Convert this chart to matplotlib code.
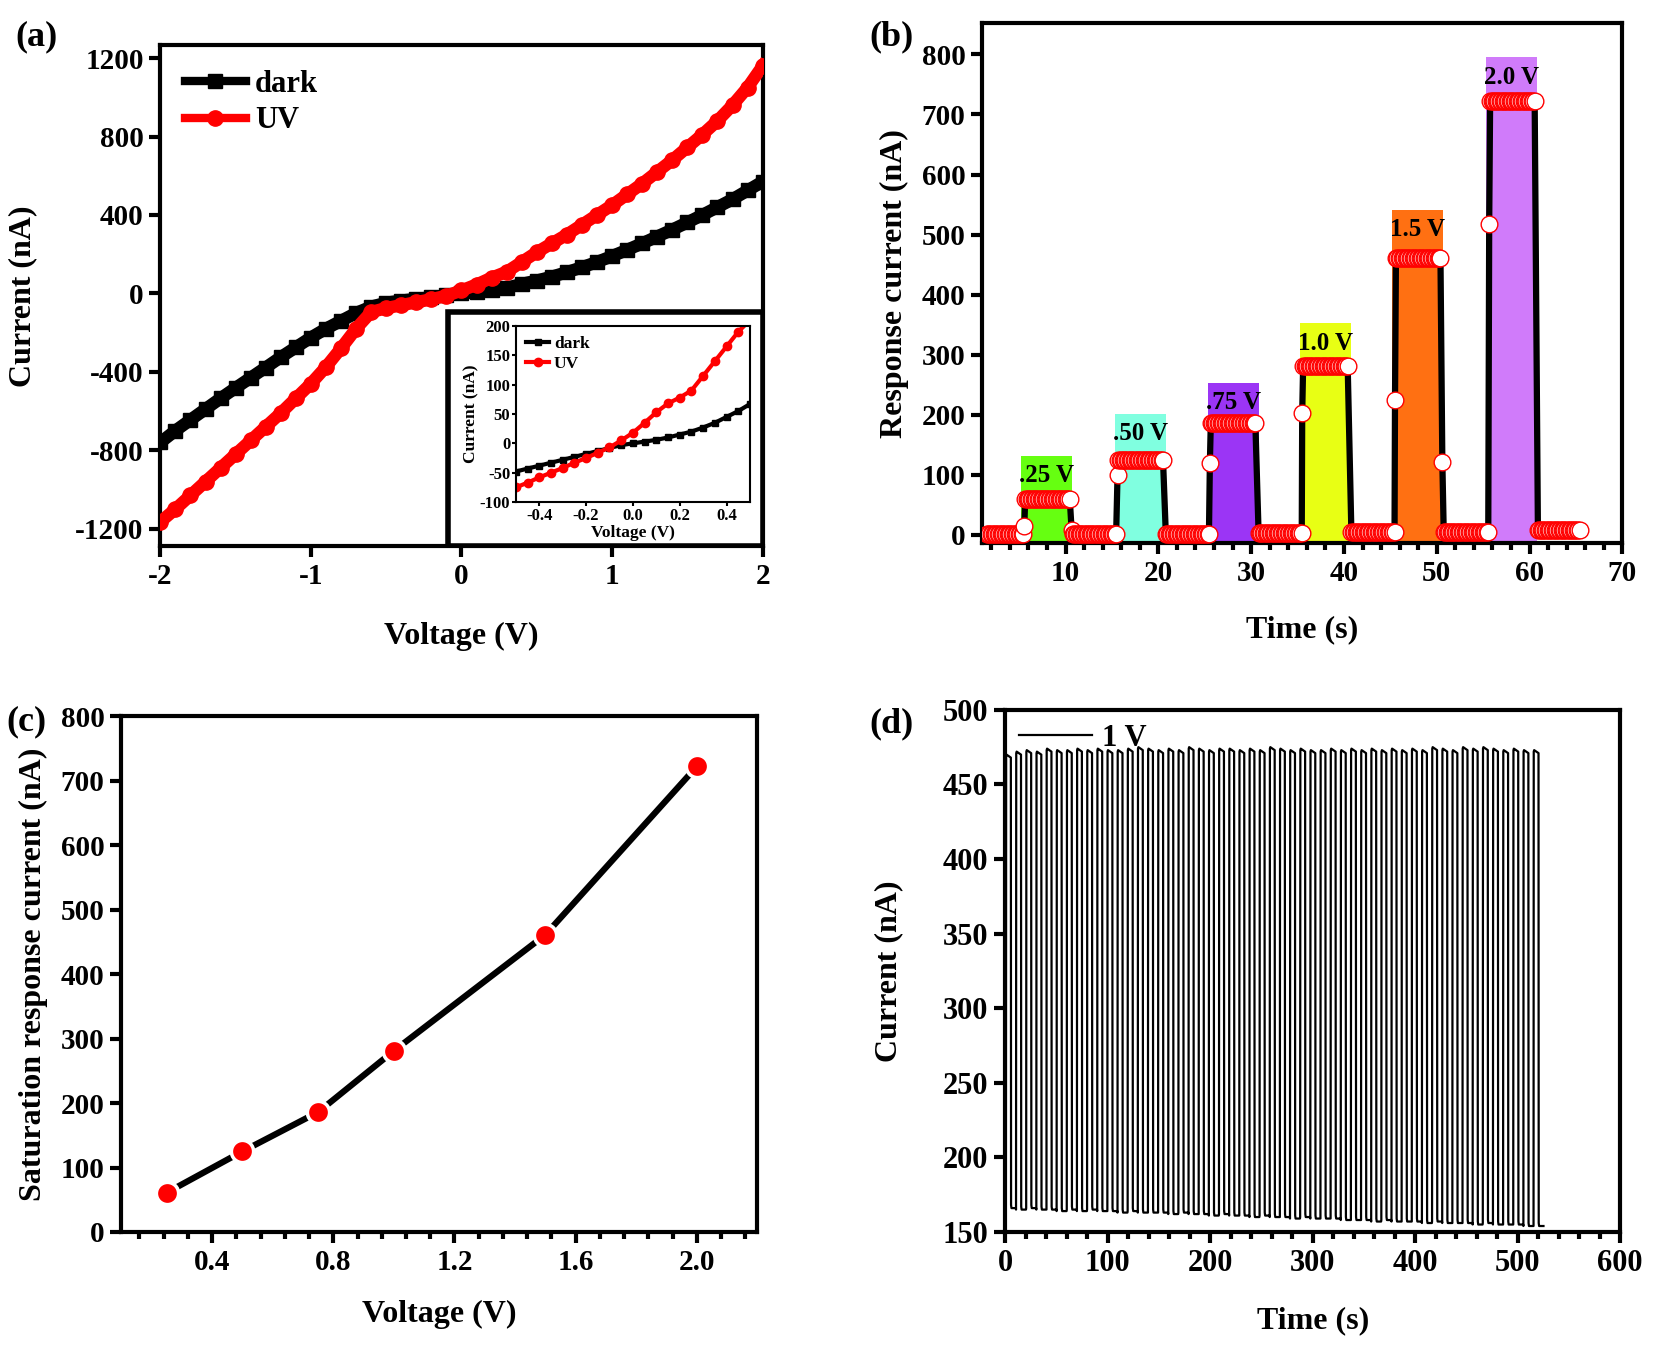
import numpy as np
import matplotlib
matplotlib.use('Agg')
import matplotlib.pyplot as plt
from matplotlib.patches import Rectangle
from matplotlib.ticker import MultipleLocator

plt.rcParams['font.family'] = ['Liberation Serif', 'DejaVu Serif']
plt.rcParams['font.weight'] = 'bold'
plt.rcParams['axes.labelweight'] = 'bold'
plt.rcParams['axes.linewidth'] = 3
plt.rcParams['axes.unicode_minus'] = False

# ---------------- data ----------------
# (a) I-V curves
volt_a = [-2.0, -1.9, -1.8, -1.7, -1.6, -1.5, -1.4, -1.3, -1.2, -1.1,
          -1.0, -0.9, -0.8, -0.7, -0.6, -0.5, -0.4, -0.3, -0.2, -0.1,
          0.0, 0.1, 0.2, 0.3, 0.4, 0.5, 0.6, 0.7, 0.8, 0.9, 1.0,
          1.1, 1.2, 1.3, 1.4, 1.5, 1.6, 1.7, 1.8, 1.9, 2.0]
dark_a = [-760, -700, -645, -590, -535, -482, -430, -378, -325, -275,
          -225, -180, -140, -100, -68, -48, -37, -28, -20, -10,
          0, 6, 15, 28, 48, 65, 85, 108, 133, 160, 190,
          222, 255, 290, 325, 362, 400, 440, 480, 525, 570]
uv_a = [-1165, -1100, -1030, -960, -890, -820, -750, -680, -610, -535,
        -460, -375, -280, -180, -95, -75, -60, -45, -30, -12,
        15, 45, 80, 110, 160, 210, 255, 300, 350, 400, 450,
        505, 560, 620, 680, 745, 810, 880, 960, 1050, 1160]

# (a) inset, low bias
volt_in = [-0.5, -0.45, -0.4, -0.35, -0.3, -0.25, -0.2, -0.15, -0.1, -0.05, 0.0,
           0.05, 0.1, 0.15, 0.2, 0.25, 0.3, 0.35, 0.4, 0.45, 0.5]
dark_in = [-48, -43, -38, -33, -28, -23, -18, -13, -8, -3, 0,
           3, 6, 10, 15, 20, 27, 35, 45, 55, 67]
uv_in = [-75, -67, -58, -50, -42, -33, -25, -16, -7, 5, 18,
         35, 53, 68, 78, 90, 115, 140, 165, 190, 210]

# (b) response at different bias
bias_labels = ['.25 V', '.50 V', '.75 V', '1.0 V', '1.5 V', '2.0 V']
bar_colors = ['#66ff11', '#80ffe0', '#9b35f5', '#e8ff14', '#ff7012', '#d07bfa']
bar_left = [5.2, 15.3, 25.3, 35.3, 45.2, 55.3]
bar_right = [10.7, 20.8, 30.8, 40.8, 50.7, 60.8]
bar_top = [132, 201, 253, 352, 541, 795]
t_on = [5.65, 15.7, 25.65, 35.6, 45.6, 55.75]
t_off = [10.5, 20.5, 30.5, 40.5, 50.45, 60.6]
plateau = [60, 125, 186, 281, 461, 722]
rise_pt = [14, 100, 120, 203, 224, 518]
fall_pt = [8, None, None, None, 122, None]
dark_base = [1, 2, 2, 3, 4, 5, 8]
t_start, t_end, t_step = 1.5, 65.5, 0.15

# (c) saturation current
volt_c = [0.25, 0.5, 0.75, 1.0, 1.5, 2.0]
sat_c = [61, 125, 186, 281, 461, 722]

# (d) cycling at 1 V
period_d = 9.9
high_d = [469, 471, 472, 471, 473, 472, 472, 473, 472, 473,
          472, 472, 473, 474, 473, 472, 473, 472, 474, 473,
          472, 473, 473, 472, 473, 472, 474, 473, 472, 473,
          472, 472, 473, 472, 473, 472, 473, 472, 473, 472,
          473, 472, 474, 473, 472, 474, 473, 474, 473, 472,
          473, 472, 472]
low_d = [166, 165, 166, 165, 165, 164, 165, 164, 165, 164,
         164, 163, 164, 163, 163, 163, 162, 163, 162, 162,
         161, 162, 161, 161, 160, 161, 160, 160, 159, 160,
         159, 159, 159, 158, 158, 158, 157, 158, 157, 157,
         157, 156, 157, 156, 156, 156, 155, 156, 155, 155,
         155, 154, 154]

# ---------------- layout ----------------
W, H = 1568.0, 1278.0


def pos(l, r, t, b):
    return [l / W, 1 - b / H, (r - l) / W, (b - t) / H]


def style(ax, size=21):
    ax.tick_params(which='major', direction='out', length=8, width=3, labelsize=size, pad=4)
    ax.tick_params(which='minor', direction='out', length=5, width=3)
    for lab in ax.get_xticklabels() + ax.get_yticklabels():
        lab.set_fontweight('bold')


def labels(ax, xl, yl, xc, yc, size=23):
    ax.set_xlabel(xl, fontsize=size, fontweight='bold')
    ax.set_ylabel(yl, fontsize=size, fontweight='bold')
    ax.xaxis.label.set_verticalalignment('center')
    ax.yaxis.label.set_verticalalignment('center')
    ax.xaxis.set_label_coords(0.5, xc)
    ax.yaxis.set_label_coords(yc, 0.5)


fig = plt.figure(figsize=(16.54, 13.48), dpi=100)

# ---- (a)
ax = fig.add_axes(pos(152, 723, 43, 518))
ax.plot(volt_a, dark_a, color='black', lw=9, marker='s', ms=10, label='dark', zorder=2)
ax.plot(volt_a, uv_a, color='red', lw=9, marker='o', ms=11, label='UV', zorder=3)
ax.set_xlim(-2, 2)
ax.set_ylim(-1290, 1265)
ax.xaxis.set_major_locator(MultipleLocator(1))
ax.set_yticks([-1200, -800, -400, 0, 400, 800, 1200])
style(ax)
labels(ax, 'Voltage (V)', 'Current (nA)', -0.18, -0.228)
leg = ax.legend(loc='upper left', frameon=False, fontsize=22, handlelength=2.0,
                handletextpad=0.3, labelspacing=0.25, borderaxespad=0.4)
for h in leg.get_lines():
    h.set_linewidth(6)
ax.add_patch(Rectangle((0.478, 0.0), 0.522, 0.467, transform=ax.transAxes,
                       facecolor='white', edgecolor='black', lw=4, zorder=5))

axi = fig.add_axes(pos(489, 711, 309, 476))
axi.plot(volt_in, dark_in, color='black', lw=3, marker='s', ms=5, label='dark')
axi.plot(volt_in, uv_in, color='red', lw=3, marker='o', ms=6, label='UV')
axi.set_xlim(-0.5, 0.5)
axi.set_ylim(-100, 200)
axi.set_xticks([-0.4, -0.2, 0.0, 0.2, 0.4])
axi.set_yticks([-100, -50, 0, 50, 100, 150, 200])
for s in axi.spines.values():
    s.set_linewidth(1.5)
axi.tick_params(direction='out', length=3, width=1.5, labelsize=12, pad=1)
axi.set_xlabel('Voltage (V)', fontsize=12.5, fontweight='bold')
axi.xaxis.label.set_verticalalignment('center')
axi.xaxis.set_label_coords(0.5, -0.175)
axi.set_ylabel('Current (nA)', fontsize=12.5, fontweight='bold', labelpad=0)
axi.legend(loc='upper left', frameon=False, fontsize=12.5, handlelength=1.3,
           handletextpad=0.3, labelspacing=0.2, borderaxespad=0.2)

# ---- (b)
bx = fig.add_axes(pos(931, 1538, 22, 515))
b_lo = -14
for k in range(6):
    bx.bar(bar_left[k], bar_top[k] - b_lo, bottom=b_lo, width=bar_right[k] - bar_left[k],
           align='edge', color=bar_colors[k], zorder=1)
    bx.text((bar_left[k] + bar_right[k]) / 2, bar_top[k] - 33, bias_labels[k],
            ha='center', va='center', fontsize=18, fontweight='bold', zorder=2)

t_b, i_b = [], []
start = t_start
for k in range(6):
    seg = np.arange(start, t_on[k] - 0.15, t_step)
    t_b += list(seg)
    i_b += [dark_base[k]] * len(seg)
    t_b.append(t_on[k] - 0.1)
    i_b.append(rise_pt[k])
    seg = np.arange(t_on[k], t_off[k] + 0.01, t_step)
    t_b += list(seg)
    i_b += [plateau[k]] * len(seg)
    if fall_pt[k] is not None:
        t_b.append(t_off[k] + 0.15)
        i_b.append(fall_pt[k])
    start = t_off[k] + 0.3
seg = np.arange(start, t_end + 0.01, t_step)
t_b += list(seg)
i_b += [dark_base[-1]] * len(seg)

bx.plot(t_b, i_b, color='black', lw=4.5, zorder=3)
bx.plot(t_b, i_b, ls='none', marker='o', ms=12, mfc='white', mec='red', mew=1.0, zorder=4)
bx.set_xlim(1, 70)
bx.set_ylim(b_lo, 852)
bx.xaxis.set_major_locator(MultipleLocator(10))
bx.xaxis.set_minor_locator(MultipleLocator(2))
bx.yaxis.set_major_locator(MultipleLocator(100))
style(bx)
labels(bx, 'Time (s)', 'Response current (nA)', -0.166, -0.137)

# ---- (c)
cx = fig.add_axes(pos(115, 718, 679, 1168))
cx.plot(volt_c, sat_c, color='black', lw=4.5, marker='o', ms=16, mfc='red', mec='white', mew=2.5)
cx.set_xlim(0.1, 2.2)
cx.set_ylim(0, 800)
cx.set_xticks([0.4, 0.8, 1.2, 1.6, 2.0])
cx.xaxis.set_minor_locator(MultipleLocator(0.08))
cx.yaxis.set_major_locator(MultipleLocator(100))
style(cx)
labels(cx, 'Voltage (V)', 'Saturation response current (nA)', -0.16, -0.138)

# ---- (d)
dx = fig.add_axes(pos(953, 1536, 673, 1168))
t_d, i_d = [0.0], [low_d[0]]
for k in range(len(high_d)):
    t0 = k * period_d
    t_d += [t0 + 0.6, t0 + 0.8, t0 + 1.2, t0 + period_d / 2 + 0.5,
            t0 + period_d / 2 + 0.7, t0 + period_d / 2 + 1.1, t0 + period_d + 0.4]
    i_d += [low_d[k], high_d[k], high_d[k] + 1, high_d[k] - 1,
            low_d[k] + 2, low_d[k], low_d[k]]
dx.plot(t_d, i_d, color='black', lw=1.6, label='1 V')
dx.set_xlim(0, 600)
dx.set_ylim(150, 500)
dx.xaxis.set_major_locator(MultipleLocator(100))
dx.xaxis.set_minor_locator(MultipleLocator(20))
dx.yaxis.set_major_locator(MultipleLocator(50))
style(dx, 22)
labels(dx, 'Time (s)', 'Current (nA)', -0.17, -0.189)
dx.legend(loc='upper left', frameon=False, fontsize=22, handlelength=2.4,
          handletextpad=0.3, borderaxespad=0.05)

# panel letters
for txt, x, y in [('(a)', 35, 35), ('(b)', 845, 35), ('(c)', 25, 684), ('(d)', 845, 686)]:
    fig.text(x / W, 1 - y / H, txt, fontsize=26, fontweight='bold', ha='center', va='center')

fig.savefig('out.png', dpi=100)
